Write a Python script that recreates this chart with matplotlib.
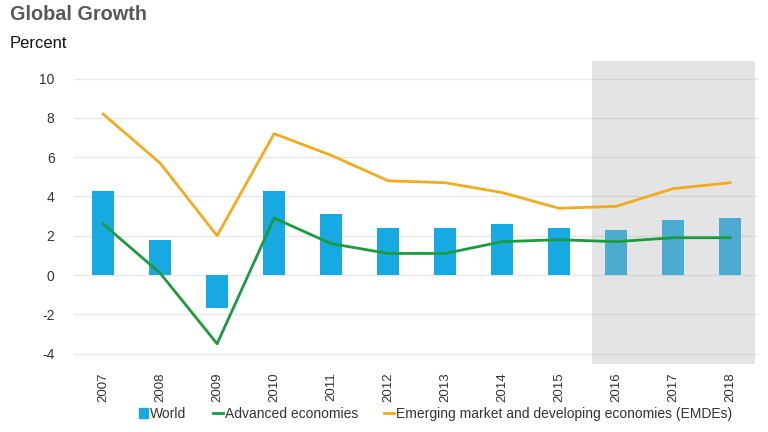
import numpy as np
import matplotlib.pyplot as plt
from matplotlib.lines import Line2D
from matplotlib.patches import Patch

plt.rcParams['font.family'] = ['Liberation Sans', 'DejaVu Sans']

years = ['2007', '2008', '2009', '2010', '2011', '2012',
         '2013', '2014', '2015', '2016', '2017', '2018']
world = [4.3, 1.8, -1.7, 4.3, 3.1, 2.4, 2.4, 2.6, 2.4, 2.3, 2.8, 2.9]
advanced = [2.6, 0.1, -3.5, 2.9, 1.6, 1.1, 1.1, 1.7, 1.8, 1.7, 1.9, 1.9]
emde = [8.2, 5.7, 2.0, 7.2, 6.1, 4.8, 4.7, 4.2, 3.4, 3.5, 4.4, 4.7]
yticks = [-4, -2, 0, 2, 4, 6, 8, 10]

blue = '#17a9e1'
green = '#1c9a3e'
orange = '#f3aa1c'

fig = plt.figure(figsize=(7.68, 4.32), dpi=100)
ax = fig.add_axes([0.0964, 0.1574, 0.8906, 0.7014])

x = np.arange(len(years))
ax.bar(x, world, width=0.39, color=blue, zorder=2)
# forecast years shaded
ax.axvspan(8.58, 11.44, color='#b0b0b0', alpha=0.34, lw=0, zorder=3)
ax.plot(x, advanced, color=green, lw=2, zorder=4)
ax.plot(x, emde, color=orange, lw=2, zorder=4)

ax.set_xlim(-0.51, 11.49)
ax.set_ylim(-4.53, 10.9)
ax.set_yticks(yticks)
ax.set_yticklabels([str(v) for v in yticks], fontsize=10, color='#333333')
ax.set_xticks(x)
ax.set_xticklabels(years, rotation=90, fontsize=9.5, color='#333333')
ax.tick_params(length=0, pad=6)
ax.tick_params(axis='y', pad=14)
ax.yaxis.grid(True, color='#e8e8e8', lw=1, zorder=0)
ax.set_axisbelow(True)
for s in ax.spines.values():
    s.set_visible(False)

fig.text(0.013, 0.967, 'Global Growth', fontsize=14.3, fontweight='bold',
         color='#595959', va='center')
fig.text(0.013, 0.9, 'Percent', fontsize=12, color='#111111', va='center')

handles = [Patch(color=blue),
           Line2D([], [], color=green, lw=2),
           Line2D([], [], color=orange, lw=2)]
labels = ['World', 'Advanced economies',
          'Emerging market and developing economies (EMDEs)']
fig.legend(handles, labels, loc='center', bbox_to_anchor=(0.567, 0.042),
           ncol=3, frameon=False, fontsize=10, handlelength=0.7,
           handleheight=0.7, handletextpad=0.15, columnspacing=1.9,
           labelcolor='#333333')

fig.savefig('out.png', dpi=100)
